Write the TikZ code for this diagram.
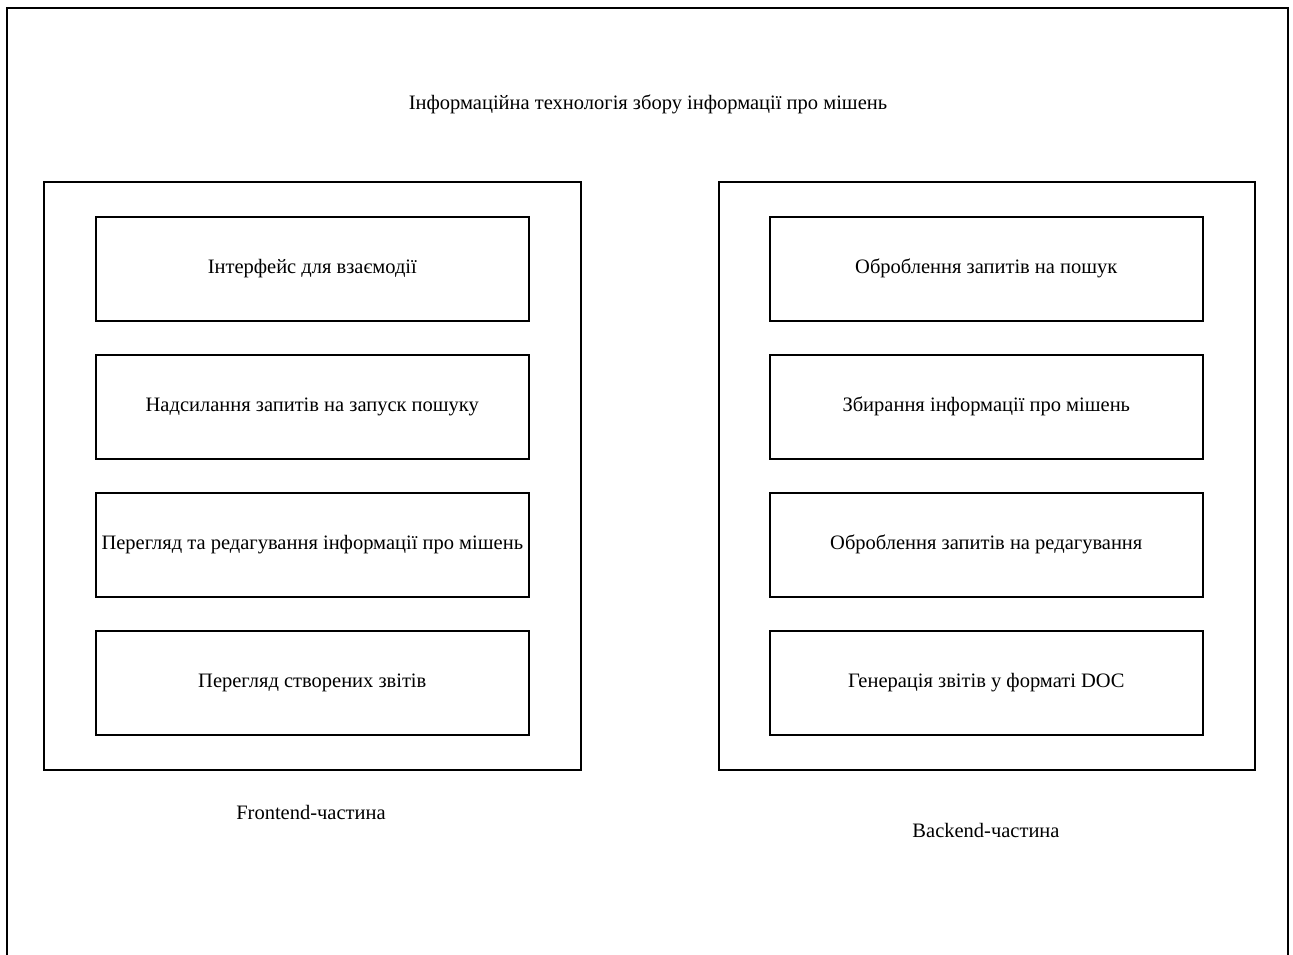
\documentclass[tikz,border=0pt]{standalone}
\usepackage{fontspec}
\setmainfont{Liberation Serif}
\begin{document}
\begin{tikzpicture}[x=1pt,y=-1pt,
  frame/.style={draw=black,line width=1.6pt},
  item/.style={draw=black,line width=1.6pt,minimum width=433pt,minimum height=104pt,
    inner sep=0pt,anchor=north west,font=\fontsize{20.5}{24}\selectfont},
  caption/.style={font=\fontsize{20.5}{24}\selectfont,inner sep=0pt}]
\useasboundingbox (0,0) rectangle (1293,954);
\clip (0,0) rectangle (1293,954);
% outer frame, open at the bottom edge of the page
\draw[frame] (7,980) -- (7,8) -- (1288,8) -- (1288,980);
\node[caption] (title) at (648,104) {Інформаційна технологія збору інформації про мішень};
% frontend panel
\node[frame,minimum width=537pt,minimum height=588pt,inner sep=0pt,anchor=north west] (front) at (43,181) {};
\node[item] (f1) at (95,216) {Інтерфейс для взаємодії};
\node[item] (f2) at (95,354) {Надсилання запитів на запуск пошуку};
\node[item] (f3) at (95,492) {Перегляд та редагування інформації про мішень};
\node[item] (f4) at (95,630) {Перегляд створених звітів};
\node[caption] (flabel) at (311,812) {Frontend-частина};
% backend panel
\node[frame,minimum width=536pt,minimum height=588pt,inner sep=0pt,anchor=north west] (back) at (718,181) {};
\node[item] (b1) at (769,216) {Оброблення запитів на пошук};
\node[item] (b2) at (769,354) {Збирання інформації про мішень};
\node[item] (b3) at (769,492) {Оброблення запитів на редагування};
\node[item] (b4) at (769,630) {Генерація звітів у форматі DOC};
\node[caption] (blabel) at (986,830) {Backend-частина};
\end{tikzpicture}
\end{document}
